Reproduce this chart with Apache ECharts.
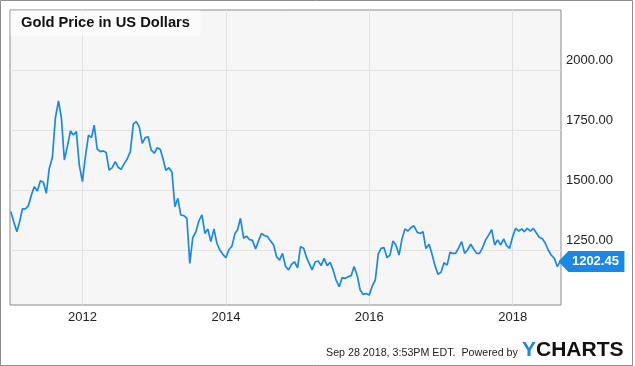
<!DOCTYPE html>
<html>
<head>
<meta charset="utf-8">
<script src="https://cdn.jsdelivr.net/npm/echarts@6/dist/echarts.min.js"></script>
<style>
  html, body { margin: 0; padding: 0; background: #fff; }
  #myChartDiv { width: 635px; height: 366px; }
</style>
</head>
<body>
<div id="myChartDiv"></div>
<script>
// gold price, two points a month (1st and 16th)
const prices2011 = [1410, 1368, 1326, 1371, 1421, 1421, 1435, 1479, 1514, 1496, 1539, 1532,
  1486, 1590, 1635, 1799, 1871, 1799, 1625, 1681, 1746, 1729, 1743, 1604];
const prices2012 = [1535, 1639, 1729, 1718, 1770, 1671, 1660, 1663, 1656, 1583, 1593, 1618,
  1595, 1586, 1610, 1629, 1660, 1774, 1785, 1764, 1694, 1718, 1722, 1667];
const prices2013 = [1653, 1676, 1669, 1625, 1582, 1593, 1575, 1430, 1465, 1396, 1393, 1382,
  1194, 1301, 1326, 1371, 1396, 1319, 1338, 1285, 1338, 1278, 1250, 1232];
const prices2014 = [1218, 1251, 1267, 1319, 1333, 1382, 1299, 1308, 1294, 1290, 1254, 1288,
  1319, 1310, 1306, 1288, 1271, 1222, 1208, 1236, 1181, 1167, 1190, 1201];
const prices2015 = [1176, 1264, 1257, 1218, 1194, 1167, 1201, 1204, 1185, 1215, 1185, 1199,
  1167, 1125, 1097, 1135, 1132, 1139, 1143, 1181, 1143, 1083, 1065, 1069];
const prices2016 = [1062, 1099, 1125, 1233, 1257, 1260, 1218, 1229, 1288, 1271, 1229, 1296,
  1338, 1329, 1344, 1351, 1324, 1319, 1326, 1256, 1274, 1232, 1185, 1149];
const prices2017 = [1157, 1197, 1187, 1241, 1236, 1236, 1260, 1285, 1236, 1250, 1274, 1254,
  1236, 1236, 1261, 1292, 1313, 1335, 1271, 1292, 1271, 1296, 1268, 1257];
const prices2018 = [1306, 1340, 1329, 1338, 1326, 1340, 1329, 1340, 1322, 1303, 1297, 1278,
  1250, 1229, 1215, 1181, 1202.45];

const yearLabels = [2012, 2014, 2016, 2018];
const priceTicks = [1250, 1500, 1750, 2000];
const lastPrice = '1202.45';

const prices = [].concat(prices2011, prices2012, prices2013, prices2014,
  prices2015, prices2016, prices2017, prices2018);

const seriesData = prices.map((v, i) => {
  const month = Math.floor(i / 2);
  const day = i % 2 === 0 ? 1 : 16;
  return [new Date(2011, month, day).getTime(), v];
});
const lastPoint = seriesData[seriesData.length - 1];
const yearTicks = yearLabels.map(y => new Date(y, 0, 1).getTime());

const blue = '#1a88e6';

let myChart = echarts.init(document.getElementById('myChartDiv'));

let option = {
  animation: false,
  backgroundColor: '#ffffff',
  grid: {
    left: 10,
    top: 10,
    right: 74,
    bottom: 61,
    show: true,
    backgroundColor: '#f6f6f6',
    borderColor: '#8a8a8a',
    borderWidth: 1
  },
  xAxis: {
    // dates as plain timestamps on a value axis, so custom tick values work
    type: 'value',
    min: new Date(2010, 11, 28).getTime(),
    max: new Date(2018, 8, 4).getTime(),
    axisLine: { show: false },
    axisTick: { show: false, customValues: yearTicks },
    splitLine: { show: true, lineStyle: { color: '#e2e2e2', width: 1 } },
    axisLabel: {
      customValues: yearTicks,
      formatter: v => String(new Date(v).getFullYear()),
      color: '#222',
      fontSize: 13,
      fontFamily: 'Liberation Sans, Arial, sans-serif',
      margin: 6
    }
  },
  yAxis: {
    type: 'value',
    position: 'right',
    min: 1020.83,
    max: 2250,
    axisLine: { show: false },
    axisTick: { show: false, customValues: priceTicks },
    splitLine: { show: true, lineStyle: { color: '#e2e2e2', width: 1 } },
    axisLabel: {
      customValues: priceTicks,
      formatter: v => v.toFixed(2),
      color: '#222',
      fontSize: 13,
      fontFamily: 'Liberation Sans, Arial, sans-serif',
      margin: 5,
      verticalAlign: 'bottom',
      lineHeight: 13,
      padding: [0, 0, 3, 0]
    }
  },
  series: [
    {
      type: 'line',
      data: seriesData,
      showSymbol: false,
      symbol: 'none',
      clip: false,
      lineStyle: { color: blue, width: 1.7 },
      markPoint: {
        symbol: 'path://M0,10.5 L10,0 L66,0 L66,21 L10,21 Z',
        symbolSize: [66, 21],
        symbolOffset: [31, 0],
        itemStyle: { color: blue },
        label: {
          show: true,
          position: 'inside',
          formatter: lastPrice,
          color: '#fff',
          fontWeight: 'bold',
          fontSize: 13,
          fontFamily: 'Liberation Sans, Arial, sans-serif',
          offset: [4, 0]
        },
        data: [{ coord: lastPoint }]
      }
    }
  ],
  graphic: [
    {
      type: 'rect',
      shape: { x: 0.5, y: 0.5, width: 632, height: 365 },
      style: { fill: 'none', stroke: '#8c8c8c', lineWidth: 1 },
      z: 100
    },
    {
      type: 'rect',
      shape: { x: 10.5, y: 10.5, width: 190, height: 25.5 },
      style: { fill: 'rgba(255,255,255,0.6)' },
      z: 50
    },
    {
      type: 'text',
      x: 21,
      y: 23,
      style: {
        text: 'Gold Price in US Dollars',
        fill: '#111',
        font: 'bold 14.7px "Liberation Sans", Arial, sans-serif',
        verticalAlign: 'middle'
      },
      z: 51
    },
    {
      type: 'text',
      x: 326,
      y: 353,
      style: {
        text: 'Sep 28 2018, 3:53PM EDT.  Powered by',
        fill: '#222',
        font: '10.7px "Liberation Sans", Arial, sans-serif',
        verticalAlign: 'middle'
      }
    },
    {
      type: 'text',
      x: 522,
      y: 350,
      style: {
        text: '{y|Y}{c|CHARTS}',
        verticalAlign: 'middle',
        rich: {
          y: { fill: blue, font: 'bold 21px "Liberation Sans", Arial, sans-serif' },
          c: { fill: '#111', font: 'bold 21px "Liberation Sans", Arial, sans-serif' }
        }
      }
    }
  ]
};

myChart.setOption(option);
</script>
</body>
</html>
